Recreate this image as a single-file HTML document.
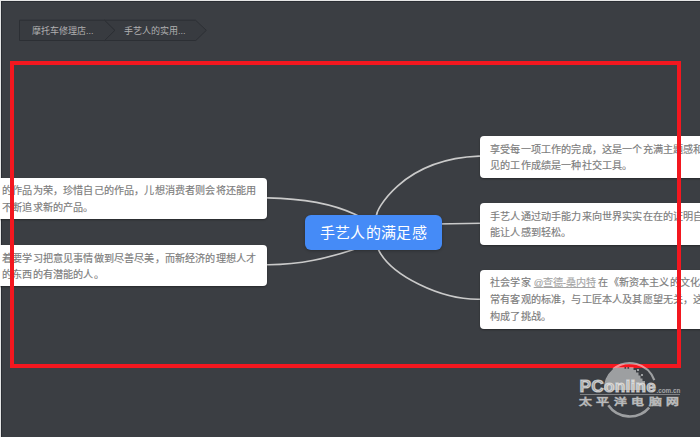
<!DOCTYPE html>
<html lang="zh-CN"><head><meta charset="utf-8">
<style>
html,body{margin:0;padding:0;}
body{width:700px;height:437px;overflow:hidden;position:relative;background:#3b3e43;font-family:"Liberation Sans",sans-serif;}
.edge-t{position:absolute;left:0;top:0;width:700px;height:1px;background:#e6e6e6;}
.edge-t2{position:absolute;left:1px;top:1px;width:699px;height:1px;background:#2a2d33;}
.edge-l{position:absolute;left:0;top:0;width:1px;height:437px;background:#e6e6e6;}
.edge-l2{position:absolute;left:1px;top:1px;width:1px;height:436px;background:#2a2d33;}
.crumbs{position:absolute;left:0;top:0;}
.crumb{position:absolute;top:26px;font-size:9px;color:#b0b0b0;font-weight:500;white-space:nowrap;line-height:10px;}
svg{position:absolute;left:0;top:0;}
.node{position:absolute;background:#fff;border-radius:4px;box-shadow:0 1px 2px rgba(0,0,0,.35);color:#7c7c7c;-webkit-text-stroke:0.15px #7c7c7c;font-size:10.1px;letter-spacing:0.17px;line-height:16.7px;padding:5.6px 10px;box-sizing:border-box;white-space:nowrap;}
.center{position:absolute;left:304.5px;top:214.5px;width:137.5px;height:35px;background:#458bf7;border-radius:6px;color:#fff;font-size:15px;letter-spacing:0.3px;text-indent:0.3px;line-height:36px;text-align:center;box-shadow:0 1px 3px rgba(0,0,0,.25);}
.red{position:absolute;left:10px;top:61px;width:671px;height:307px;box-sizing:border-box;border:4px solid #f3171f;}
.at{letter-spacing:-0.2px;color:#a4a4a4;-webkit-text-stroke:0.1px #a4a4a4;text-decoration:underline;text-underline-offset:0.6px;}
</style></head><body>
<div class="edge-t"></div><div class="edge-l"></div><div class="edge-t2"></div><div class="edge-l2"></div>

<svg width="700" height="437" viewBox="0 0 700 437">
  <!-- breadcrumbs -->
  <path d="M19.5 20.2 H104.6 L114.9 30.3 L104.6 40.5 H19.5 Z" fill="#383b40" stroke="#2c2f34" stroke-width="1"/>
  <path d="M104.6 20.2 H195.5 L206.3 30.3 L195.8 40.5 H104.6 L114.9 30.3 Z" fill="#383b40" stroke="#2c2f34" stroke-width="1"/>
  <!-- connectors -->
  <g fill="none" stroke="#cacaca" stroke-width="1.65">
    <path d="M374.6 219.4 L376.9 213.9 C375.29 213.63 399.5 159.12 479.1 156.17 L482 156.17"/>
    <path d="M376 244.4 L378.41 249.6 C390.66 275.41 440.68 299.69 478.9 299.2 L482 299.2"/>
    <path d="M265 197.89 L267.4 197.89 C311.87 198.74 338.83 206.81 354.3 214.1 L362 217.7"/>
    <path d="M265 264.7 L267.4 264.7 C301.54 264.91 328.29 257.67 352.1 249.91 L364.1 246"/>
    <path d="M436 223.95 L482 223.2"/>
  </g>
</svg>
<div class="crumb" style="left:32px;">摩托车修理店...</div>
<div class="crumb" style="left:124px;">手艺人的实用...</div>

<div class="node" style="left:-8px;top:177.5px;width:274.7px;height:41.8px;">的作品为荣，珍惜自己的作品，儿想消费者则会将还能用<br>不断追求新的产品。</div>
<div class="node" style="left:-8px;top:245px;width:274.5px;height:41.3px;">着要学习把意见事情做到尽善尽美，而新经济的理想人才<br>的东西的有潜能的人。</div>

<div class="node" style="left:480px;top:136px;width:275px;height:41.5px;">享受每一项工作的完成，这是一个充满主题感和<br>见的工作成绩是一种社交工具。</div>
<div class="node" style="left:480px;top:203px;width:275px;height:42px;">手艺人通过动手能力来向世界实实在在的证明自<br>能让人感到轻松。</div>
<div class="node" style="left:480px;top:270px;width:275px;height:59px;padding-top:5.1px;">社会学家 <span class="at"><span style="font-size:9.6px">@</span>查德-桑内特</span> 在《新资本主义的文化<br>常有客观的标准，与工匠本人及其愿望无关，这<br>构成了挑战。</div>

<div class="center">手艺人的满足感</div>

<div class="red"></div>


<svg class="wm" width="700" height="437" viewBox="0 0 700 437" style="position:absolute;left:0;top:0;">
  <g opacity="0.5" fill="#ffffff">
    <path d="M613.2 369.2 A26 26 0 0 1 654.3 380.2" fill="none" stroke="#ffffff" stroke-width="2.2"/>
    <path d="M608.3 405.3 A26 26 0 0 0 649.2 407.6" fill="none" stroke="#ffffff" stroke-width="2.6"/>
    <path d="M604 390 A25.8 25.8 0 0 1 612.5 369.5 L616.5 367.2 L633.5 367.2 V370 H636 V372.5 H638.5 V375.5 H640.5 V378.5 H642.5 V381 H645 V390 Z"/>
    <rect x="637" y="369" width="2" height="2"/>
    <rect x="641" y="374" width="2" height="2"/>
  </g>
  <g fill="#3b3e43" opacity="0.9">
    <rect x="624.5" y="367" width="1.6" height="1.8"/>
    <rect x="627.5" y="367" width="1.6" height="1.8"/>
  </g>
</svg>
<div class="wmt" style="position:absolute;left:579.5px;top:376px;font:bold 17.3px/20px 'Liberation Sans',sans-serif;color:rgba(255,255,255,.6);letter-spacing:0.2px;-webkit-text-stroke:1.1px rgba(255,255,255,.6);text-shadow:0 0 1px rgba(0,0,0,.6);white-space:nowrap;">PConline</div>
<div class="wmt" style="position:absolute;left:656.5px;top:387px;font:bold 6.3px/8px 'Liberation Sans',sans-serif;color:rgba(255,255,255,.55);white-space:nowrap;">.com.cn</div>
<div style="position:absolute;left:580px;top:394px;width:100px;height:1px;background:rgba(255,255,255,.35);"></div>
<div class="wmt" style="position:absolute;left:579px;top:394.5px;font:bold 9.6px/13px 'Liberation Sans',sans-serif;color:rgba(255,255,255,.5);letter-spacing:3.05px;transform:scaleX(1.34);transform-origin:0 0;-webkit-text-stroke:0.6px rgba(255,255,255,.4);text-shadow:0 0 1px rgba(0,0,0,.5);white-space:nowrap;">太平洋电脑网</div>
</body></html>
